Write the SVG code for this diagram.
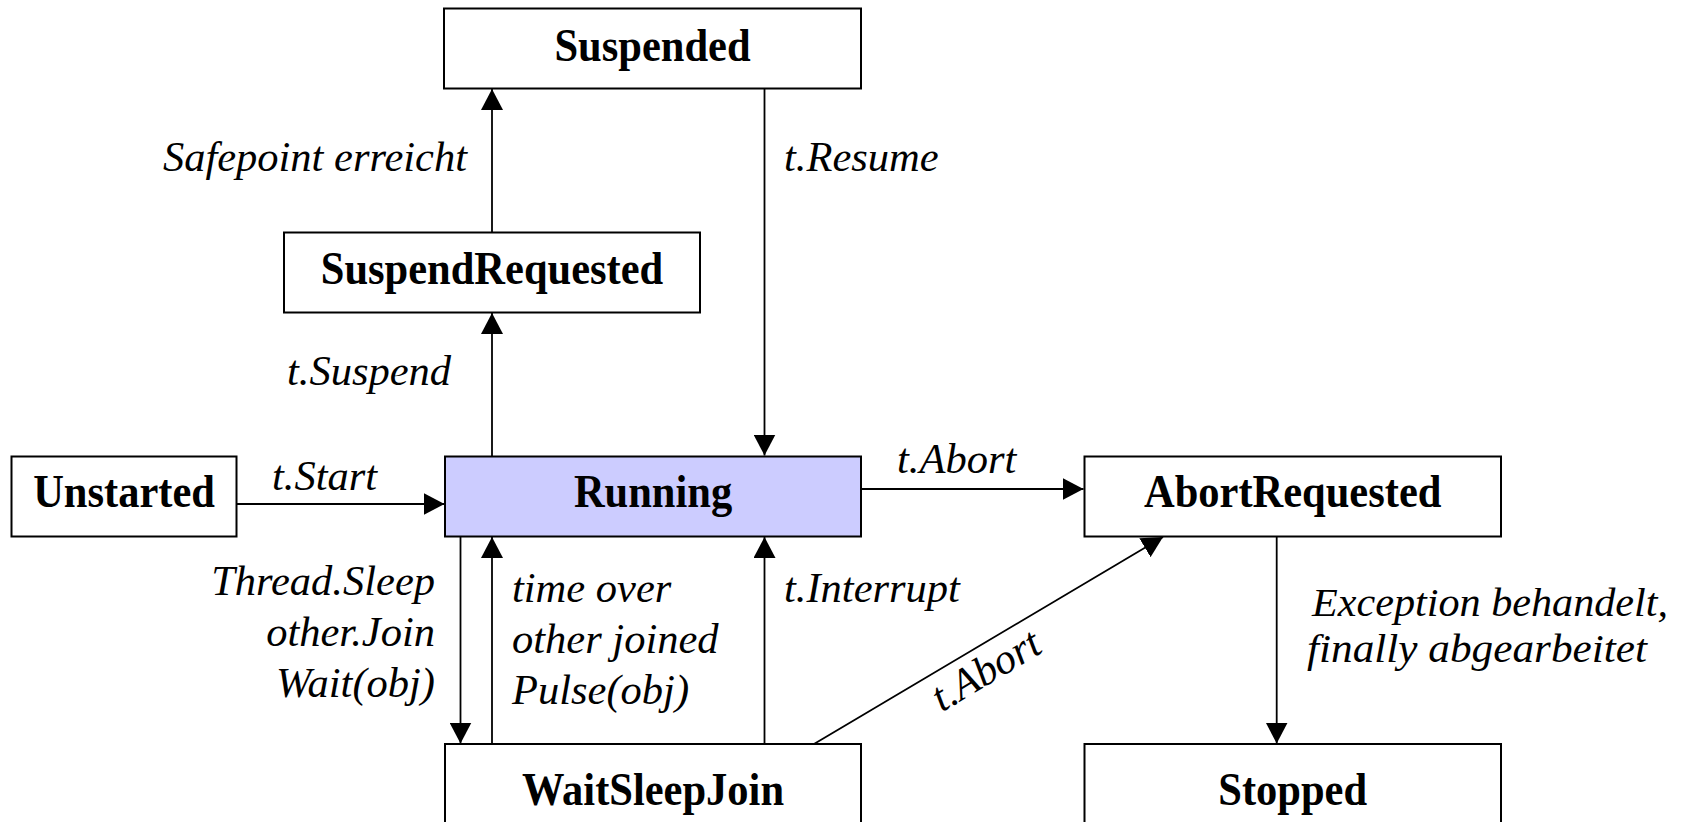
<svg xmlns="http://www.w3.org/2000/svg" width="1683" height="822" viewBox="0 0 1683 822">
<style>
.box{fill:#ffffff;stroke:#000;stroke-width:2}
.run{fill:#ccccff;stroke:#000;stroke-width:2}
.st{font-family:"Liberation Serif","Times New Roman",serif;font-weight:bold;font-size:42.5px;text-anchor:middle;fill:#000}
.lb{font-family:"Liberation Serif","Times New Roman",serif;font-style:italic;font-size:42.5px;fill:#000}
.sm{font-size:40px}
.c{stroke:#000;stroke-width:1.8;fill:none;marker-end:url(#ah)}
</style>
<defs>
<marker id="ah" markerUnits="userSpaceOnUse" markerWidth="22" markerHeight="22" viewBox="0 0 22 22" refX="21" refY="11" orient="auto">
<path d="M0,0 L21,11 L0,22 Z" fill="#000"/>
</marker>
</defs>
<rect width="1683" height="822" fill="#fff"/>
<g id="connectors">
<line class="c" x1="492" y1="232.5" x2="492" y2="89"/>
<line class="c" x1="764.5" y1="88.5" x2="764.5" y2="455.5"/>
<line class="c" x1="492" y1="456" x2="492" y2="313"/>
<line class="c" x1="236.5" y1="504" x2="444.5" y2="504"/>
<line class="c" x1="861" y1="489" x2="1083.5" y2="489"/>
<line class="c" x1="460.5" y1="536.5" x2="460.5" y2="743.5"/>
<line class="c" x1="492" y1="744" x2="492" y2="537"/>
<line class="c" x1="764.5" y1="744" x2="764.5" y2="537"/>
<line class="c" x1="814" y1="744" x2="1163" y2="537"/>
<line class="c" x1="1276.7" y1="536.5" x2="1276.7" y2="743.5"/>
<text class="lb" x="467" y="171" text-anchor="end">Safepoint erreicht</text>
<text class="lb" x="784" y="171">t.Resume</text>
<text class="lb" x="287" y="385">t.Suspend</text>
<text class="lb" x="272" y="490">t.Start</text>
<text class="lb" x="897" y="473">t.Abort</text>
<text class="lb" x="435" y="595" text-anchor="end">Thread.Sleep</text>
<text class="lb" x="435" y="646" text-anchor="end">other.Join</text>
<text class="lb" x="435" y="697" text-anchor="end">Wait(obj)</text>
<text class="lb" x="512" y="602">time over</text>
<text class="lb" x="512" y="653">other joined</text>
<text class="lb" x="512" y="704">Pulse(obj)</text>
<text class="lb" x="784" y="602">t.Interrupt</text>
<text class="lb" x="993" y="682" text-anchor="middle" transform="rotate(-30.7 993 682)">t.Abort</text>
<text class="lb sm" x="1312" y="616" textLength="356" lengthAdjust="spacingAndGlyphs">Exception behandelt,</text>
<text class="lb sm" x="1307" y="662" textLength="340" lengthAdjust="spacingAndGlyphs">finally abgearbeitet</text>
</g>
<g id="Suspended">
<rect class="box" x="444" y="8.5" width="417" height="80"/>
<text class="st" transform="translate(652.5 61) scale(1 1.08)">Suspended</text>
</g>
<g id="SuspendRequested">
<rect class="box" x="284" y="232.5" width="416" height="80"/>
<text class="st" transform="translate(492 284) scale(1 1.08)">SuspendRequested</text>
</g>
<g id="Unstarted">
<rect class="box" x="11.5" y="456.5" width="225" height="80"/>
<text class="st" transform="translate(124 507) scale(1 1.08)">Unstarted</text>
</g>
<g id="Running">
<rect class="run" x="445" y="456.5" width="416" height="80"/>
<text class="st" transform="translate(653 507) scale(1 1.08)">Running</text>
</g>
<g id="AbortRequested">
<rect class="box" x="1084.5" y="456.5" width="416.5" height="80"/>
<text class="st" transform="translate(1292.7 507) scale(1 1.08)">AbortRequested</text>
</g>
<g id="WaitSleepJoin">
<rect class="box" x="445" y="744" width="416" height="100"/>
<text class="st" transform="translate(653 805) scale(1 1.08)">WaitSleepJoin</text>
</g>
<g id="Stopped">
<rect class="box" x="1084.5" y="744" width="416.5" height="100"/>
<text class="st" transform="translate(1292.7 805) scale(1 1.08)">Stopped</text>
</g>
</svg>
